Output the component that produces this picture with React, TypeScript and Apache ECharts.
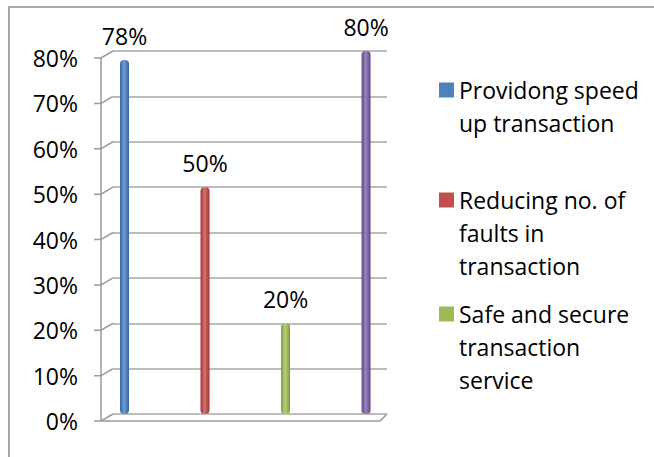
import { useEffect, useRef } from "react";
import * as echarts from "echarts";

// Each bar is its own series; the legend lists the first three.
const seriesNames = [
  "Providong speed up transaction",
  "Reducing no. of faults in transaction",
  "Safe and secure transaction service",
  "Series 4",
];
const legendLines = [
  ["Providong speed", "up transaction"],
  ["Reducing no. of", "faults in", "transaction"],
  ["Safe and secure", "transaction", "service"],
];
const values = [78, 50, 20, 80];
const yTicks = [0, 10, 20, 30, 40, 50, 60, 70, 80];

const baseColors = ["#4f81bd", "#c0504d", "#9bbb59", "#8064a2"];
const darkColors = ["#35659e", "#9e3431", "#7a9a3c", "#604785"];
const lightColors = ["#6f9bd6", "#d9716e", "#b5d47a", "#9b82bd"];

const FONT = "Open Sans";
const X_MIN = -0.143;
const X_MAX = 3.26;
const Y_MAX = 80;
const LH = 33;
const legendCenters = [90, 200, 314];

export default function App() {
  const ref = useRef<HTMLDivElement>(null);

  useEffect(() => {
    if (!ref.current) return;
    const chart = echarts.init(ref.current, null, { renderer: "svg" });

    const barSeries = values.map((v, i) => ({
      type: "bar",
      name: seriesNames[i],
      data: [[i, v]],
      barWidth: 9,
      barGap: "-100%",
      itemStyle: {
        borderRadius: 4,
        color: new echarts.graphic.LinearGradient(0, 0, 1, 0, [
          { offset: 0, color: darkColors[i] },
          { offset: 0.45, color: lightColors[i] },
          { offset: 1, color: darkColors[i] },
        ]),
      },
      label: {
        show: true,
        position: "top",
        distance: 13,
        fontFamily: FONT,
        fontSize: 23,
        lineHeight: 23,
        color: "#000",
        formatter: (p: any) => p.value[1] + "%",
      },
      z: 3,
    }));

    // Pseudo-3D framing: front axis, depth ticks and the floor.
    const frame = {
      type: "custom",
      silent: true,
      clip: false,
      z: 1,
      encode: { x: 0, y: 1 },
      data: yTicks.map((v) => [X_MIN, v]),
      renderItem: (params: any, api: any) => {
        const v = api.value(1);
        const back = api.coord([X_MIN, v]);
        const stroke = { stroke: "#9a9a9a", lineWidth: 1.5, fill: "none" };
        const children: any[] = [
          {
            type: "polyline",
            shape: {
              points: [
                [back[0] - 19, back[1] + 7],
                [back[0] - 12, back[1] + 7],
                [back[0], back[1]],
              ],
            },
            style: stroke,
          },
        ];
        if (params.dataIndex === 0) {
          const top = api.coord([X_MIN, Y_MAX]);
          const right = api.coord([X_MAX, 0]);
          children.push(
            {
              type: "line",
              shape: { x1: top[0] - 12, y1: top[1] + 7, x2: back[0] - 12, y2: back[1] + 7 },
              style: stroke,
            },
            {
              type: "polyline",
              shape: {
                points: [
                  [back[0] - 12, back[1] + 7],
                  [right[0] - 7, right[1] + 7],
                  [right[0], right[1]],
                ],
              },
              style: stroke,
            }
          );
        }
        return { type: "group", children };
      },
    };

    chart.setOption({
      animation: false,
      textStyle: { fontFamily: FONT },
      graphic: [
        {
          type: "rect",
          shape: { x: 9, y: 7, width: 900, height: 700 },
          style: { fill: "none", stroke: "#8c8c8c", lineWidth: 1.5 },
          silent: true,
        },
      ],
      grid: { left: 113, right: 267, top: 51, bottom: 43 },
      xAxis: {
        type: "value",
        min: X_MIN,
        max: X_MAX,
        show: false,
      },
      yAxis: {
        type: "value",
        min: 0,
        max: Y_MAX,
        interval: 10,
        axisLine: { show: false },
        axisTick: { show: false },
        splitLine: { lineStyle: { color: "#a6a6a6", width: 1.5 } },
        // Labels sit level with the front ticks, a few pixels below the back grid lines.
        axisLabel: {
          formatter: "{value}%",
          fontFamily: FONT,
          fontSize: 23,
          lineHeight: 14,
          verticalAlign: "top",
          color: "#000",
          margin: 35,
        },
      },
      // One legend per entry; leading blank lines keep the icon level with the first text line.
      legend: legendLines.map((lines, i) => {
        const n = lines.length;
        return {
          data: [{ name: seriesNames[i], itemStyle: { color: baseColors[i] } }],
          left: 439,
          top: legendCenters[i] - ((2 * n - 1) * LH) / 2,
          orient: "vertical",
          icon: "rect",
          itemWidth: 15,
          itemHeight: 15,
          padding: 0,
          selectedMode: false,
          formatter: () => "\n".repeat(n - 1) + lines.join("\n"),
          textStyle: {
            fontFamily: FONT,
            fontSize: 23,
            lineHeight: LH,
            color: "#000",
          },
        };
      }),
      series: [frame, ...barSeries],
    });

    return () => chart.dispose();
  }, []);

  return (
    <div
      ref={ref}
      style={{ position: "fixed", left: 0, top: 0, width: 654, height: 457, background: "#fff" }}
    />
  );
}
